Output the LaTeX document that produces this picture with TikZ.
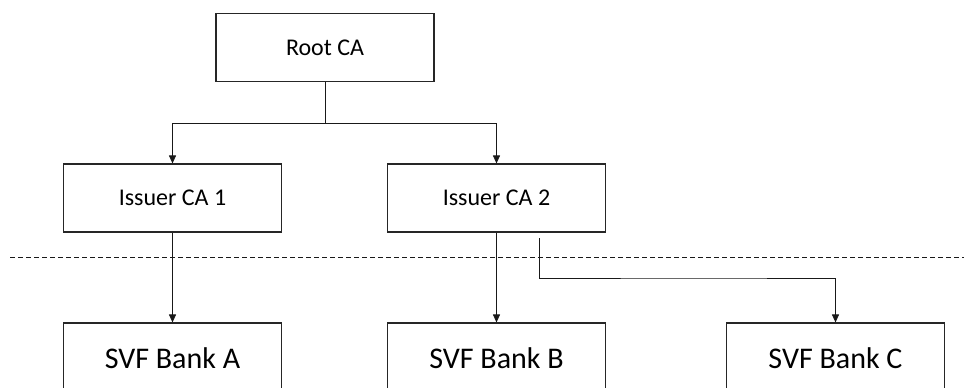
\documentclass[tikz,border=0pt]{standalone}
\usepackage{fontspec}
\setmainfont{Carlito}
\usetikzlibrary{arrows.meta}
\begin{document}
\begin{tikzpicture}[x=1pt,y=-1pt,
  cabox/.style={draw=black!85,line width=1.1pt,minimum width=218pt,minimum height=68pt,inner sep=0pt,font=\fontsize{24}{28}\selectfont},
  bankbox/.style={draw=black!85,line width=1.1pt,minimum width=218pt,minimum height=70pt,inner sep=0pt,font=\fontsize{30}{34}\selectfont},
  conn/.style={draw=black!90,line width=0.9pt},
  arr/.style={conn,-{Triangle[length=8pt,width=7pt]}}]
\useasboundingbox (0,0) rectangle (964,388);
\clip (0,0) rectangle (964,388);
\node[cabox] (root) at (325,47.5) {Root CA};
\node[cabox] (i1) at (172.5,198) {Issuer CA 1};
\node[cabox] (i2) at (496.5,198) {Issuer CA 2};
\node[bankbox] (a) at (172.5,358) {SVF Bank A};
\node[bankbox] (b) at (496.5,358) {SVF Bank B};
\node[bankbox] (c) at (835.5,358) {SVF Bank C};
\coordinate (jn) at (325,123);
\coordinate (cs) at (539,238);
\coordinate (dl) at (10,257);
\coordinate (dr) at (964,257);
\draw[conn,dash pattern=on 5pt off 3pt] (dl) -- (dr);
\draw[conn] (root.south) -- (jn);
\draw[arr] (jn) -| (i1.north);
\draw[arr] (jn) -| (i2.north);
\draw[arr] (i1.south) -- (a.north);
\draw[arr] (i2.south) -- (b.north);
\draw[arr] (cs) |- (700,278) -| (c.north);
\end{tikzpicture}
\end{document}
